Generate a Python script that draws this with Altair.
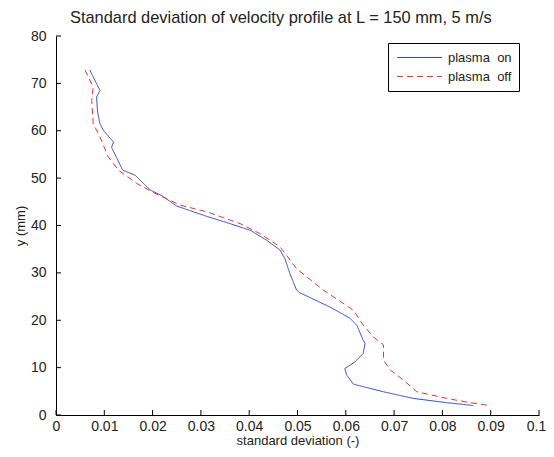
import altair as alt
import pandas as pd

# plasma on (solid blue)
on_x = [0.0070, 0.0091, 0.0084, 0.0086, 0.0091, 0.0098, 0.0119, 0.0115, 0.0138, 0.0164,
        0.0195, 0.0219, 0.0250, 0.0310, 0.0360, 0.0402, 0.0436, 0.0464, 0.0474, 0.0484,
        0.0498, 0.0505, 0.0567, 0.0609, 0.0623, 0.0636, 0.0640, 0.0636, 0.0619, 0.0598,
        0.0602, 0.0616, 0.0678, 0.0740, 0.0809, 0.0864]
on_y = [72.8, 68.5, 67.1, 64.0, 61.5, 60.1, 57.6, 56.5, 51.7, 50.6,
        47.5, 46.3, 44.1, 42.0, 40.4, 39.0, 36.9, 34.8, 33.0, 29.9,
        26.4, 25.8, 22.8, 20.4, 18.9, 15.8, 15.1, 13.0, 11.2, 9.8,
        8.4, 6.5, 4.9, 3.5, 2.6, 2.0]

# plasma off (dashed red)
off_x = [0.0060, 0.0077, 0.0074, 0.0077, 0.0091, 0.0108, 0.0129, 0.0167, 0.0205, 0.0257,
         0.0312, 0.0381, 0.0422, 0.0464, 0.0498, 0.0553, 0.0616, 0.0636, 0.0657, 0.0678,
         0.0678, 0.0692, 0.0719, 0.0747, 0.0809, 0.0857, 0.0892]
off_y = [72.8, 69.2, 66.4, 61.5, 58.7, 54.5, 51.7, 48.9, 46.8, 44.3,
         42.9, 40.4, 38.3, 35.5, 30.9, 26.4, 22.1, 19.0, 16.5, 14.8,
         11.6, 9.5, 7.4, 4.9, 3.5, 2.6, 2.1]

series = ["plasma on", "plasma off"]
colors = ["#2a48cc", "#f03030"]

x_ticks = [0, 0.01, 0.02, 0.03, 0.04, 0.05, 0.06, 0.07, 0.08, 0.09, 0.1]
y_ticks = [0, 10, 20, 30, 40, 50, 60, 70, 80]

W, H = 483, 379

rows = []
for i, (x, y) in enumerate(zip(on_x, on_y)):
    rows.append({"s": series[0], "x": x, "y": y, "i": i})
for i, (x, y) in enumerate(zip(off_x, off_y)):
    rows.append({"s": series[1], "x": x, "y": y, "i": i})
df = pd.DataFrame(rows)

xs = alt.Scale(domain=[0, 0.1], nice=False, zero=False)
ys = alt.Scale(domain=[0, 80], nice=False, zero=False)

font = "Liberation Sans"


def make_legend():
    return alt.Legend(title=None, orient="none", legendX=332, legendY=7,
                      strokeColor="black", fillColor="white", padding=7,
                      symbolType="stroke", symbolSize=2025, symbolStrokeWidth=1.2,
                      clipHeight=15, rowPadding=4, labelFontSize=13,
                      labelFont=font, labelColor="#222", labelOffset=5,
                      symbolOffset=1, cornerRadius=0,
                      labelExpr="replace(datum.label, ' ', '\u00a0\u00a0')")


lines = alt.Chart(df).mark_line(strokeWidth=1, clip=True).encode(
    x=alt.X("x:Q", scale=xs, title="standard deviation (-)",
            axis=alt.Axis(values=x_ticks, format=".2~f", tickSize=0, grid=False,
                          labelPadding=4, titlePadding=1, domainColor="black",
                          labelFontSize=14, titleFontSize=13, labelColor="#222",
                          titleColor="#222", titleFontWeight="normal", labelFont=font,
                          titleFont=font, labelFlush=False,
                          labelOffset={"condition": {"test": "datum.value >= 0.1", "value": -3},
                                       "value": 0})),
    y=alt.Y("y:Q", scale=ys, title="y (mm)",
            axis=alt.Axis(values=y_ticks, tickSize=0, grid=False, labelPadding=10,
                          titlePadding=3, domainColor="black", labelFontSize=14,
                          titleFontSize=13, labelColor="#222", titleColor="#222",
                          titleFontWeight="normal", labelFont=font, titleFont=font,
                          labelFlush=False)),
    color=alt.Color("s:N", scale=alt.Scale(domain=series, range=colors), legend=make_legend()),
    strokeDash=alt.StrokeDash("s:N", scale=alt.Scale(domain=series, range=[[1, 0], [6, 4]]),
                              legend=make_legend()),
    order="i:Q",
)

xt = pd.DataFrame({"v": x_ticks})
yt = pd.DataFrame({"v": y_ticks})
xtick = alt.Chart(xt).mark_rule(color="black", strokeWidth=1).encode(
    x=alt.X("v:Q", scale=xs), y=alt.value(H), y2=alt.value(H - 5))
ytick = alt.Chart(yt).mark_rule(color="black", strokeWidth=1).encode(
    y=alt.Y("v:Q", scale=ys), x=alt.value(0), x2=alt.value(5))

chart = alt.layer(lines, xtick, ytick).properties(
    width=W, height=H,
    title=alt.Title("Standard deviation of velocity profile at L = 150 mm, 5 m/s",
                    fontSize=16.4, font=font, fontWeight="normal", color="#222",
                    anchor="start", frame="group", dx=14, offset=3),
    autosize=alt.AutoSizeParams(type="none"),
    padding={"left": 48, "top": 28, "right": 7, "bottom": 33},
).configure_view(stroke=None).configure_axis(domainWidth=1)

chart.save("out.html", embed_options={"renderer": "svg", "actions": False})
